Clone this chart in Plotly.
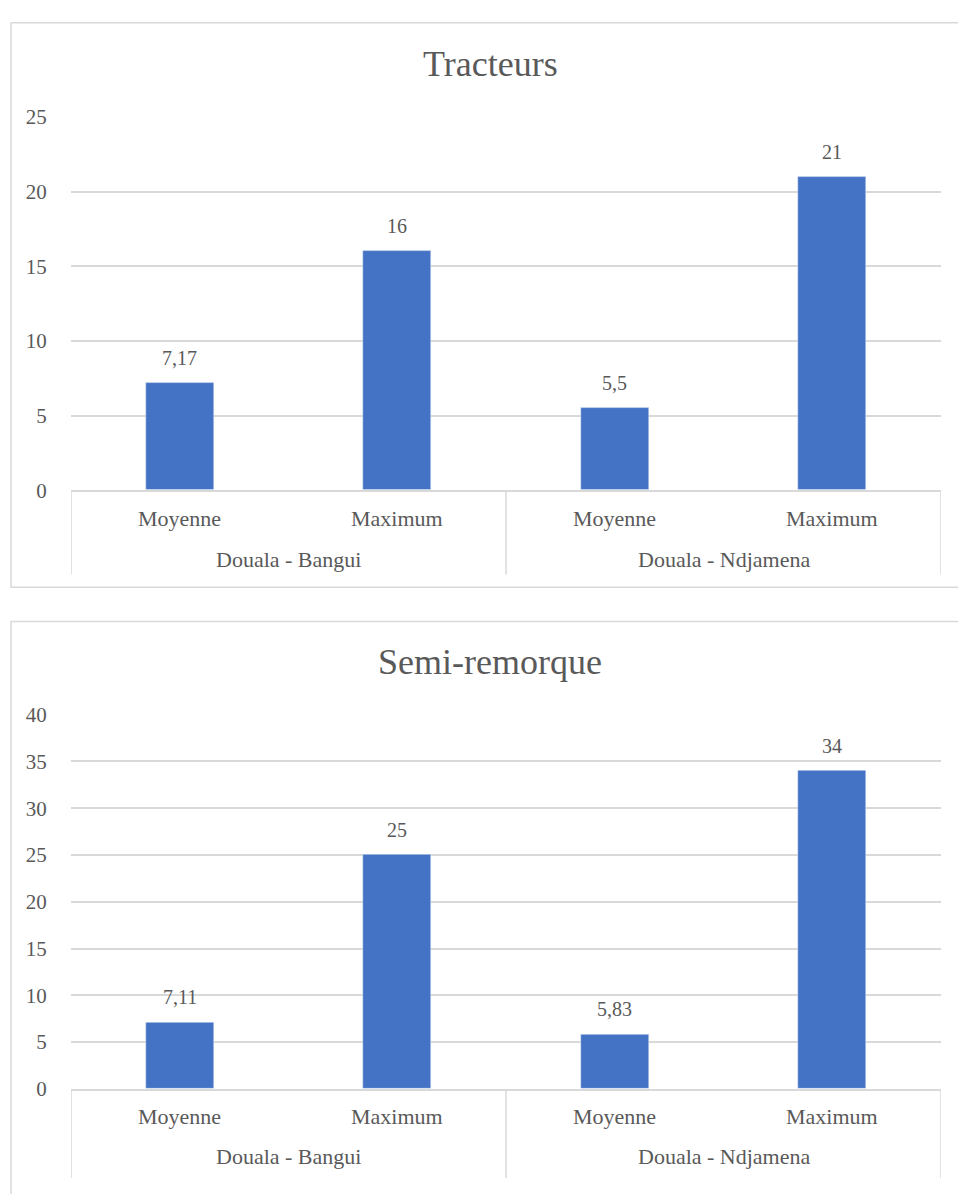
import plotly.graph_objects as go

# ---- data ----
groups = ["Douala - Bangui", "Douala - Ndjamena"]
cats = ["Moyenne", "Maximum"]
tracteurs = [7.17, 16, 5.5, 21]
semi_remorque = [7.11, 25, 5.83, 34]
titles = ["Tracteurs", "Semi-remorque"]
y_max = [25, 40]

W, H = 958, 1194
FONT = "Liberation Serif, Times New Roman, serif"
GREY = "#595959"
LINE = "#d9d9d9"
BAR = "#4472C4"

labels = [c for g in groups for c in cats]
idx = list(range(len(labels)))


def fmt(v):
    s = ("%g" % v)
    return s.replace(".", ",")


def px(y):
    return 1 - y / H


fig = go.Figure()

# pixel layout of the two panels
panels = [
    dict(top=107, zero=488, box=(11, 11, 587), title_y=53, cat_y=517, grp_y=559, bottom=574),
    dict(top=717, zero=1099, box=(11, 622, 1210), title_y=663, cat_y=1127, grp_y=1168, bottom=1190),
]
x0p, x1p = 71 / W, 941 / W
series = [tracteurs, semi_remorque]

shapes = []
annotations = []
for k, (vals, p) in enumerate(zip(series, panels)):
    xa = "x" if k == 0 else "x2"
    ya = "y" if k == 0 else "y2"
    fig.add_trace(go.Bar(
        x=idx, y=vals, marker_color=BAR, width=0.3125,
        xaxis=xa, yaxis=ya, showlegend=False, hoverinfo="x+y",
    ))
    xkey = "xaxis" if k == 0 else "xaxis2"
    ykey = "yaxis" if k == 0 else "yaxis2"
    fig.update_layout(**{
        xkey: dict(domain=[x0p, x1p], range=[-0.5, len(labels) - 0.5],
                   showticklabels=False, showgrid=False, zeroline=False,
                   showline=True, linecolor=LINE, linewidth=1.5,
                   anchor=ya, fixedrange=True),
        ykey: dict(domain=[px(p["zero"]), px(p["top"])], range=[0, y_max[k]],
                   dtick=5, showgrid=True, gridcolor=LINE, gridwidth=1.5,
                   zeroline=False, showline=False,
                   ticks="outside", ticklen=19, tickcolor="rgba(0,0,0,0)",
                   tickfont=dict(family=FONT, size=21, color=GREY),
                   anchor=xa, fixedrange=True),
    })
    # chart border
    bx, by0, by1 = p["box"]
    shapes.append(dict(type="rect", xref="paper", yref="paper",
                       x0=bx / W, x1=1.01, y0=px(by1), y1=px(by0),
                       line=dict(color=LINE, width=1.5), fillcolor="rgba(0,0,0,0)",
                       layer="below"))
    # category axis dividers
    for d in [-0.5, len(cats) - 0.5, len(labels) - 0.5]:
        shapes.append(dict(type="line", xref=xa, yref="paper",
                           x0=d, x1=d, y0=px(p["bottom"]), y1=px(p["zero"]),
                           line=dict(color=LINE, width=1.5)))
    # title
    annotations.append(dict(text=titles[k], xref="paper", yref="paper",
                            x=490 / W, y=px(p["title_y"]), xanchor="center", yanchor="middle",
                            showarrow=False, font=dict(family=FONT, size=36, color=GREY)))
    # category labels
    for i, lab in enumerate(labels):
        annotations.append(dict(text=lab, xref=xa, yref="paper", x=i, y=px(p["cat_y"]),
                                xanchor="center", yanchor="middle", showarrow=False,
                                font=dict(family=FONT, size=22, color=GREY)))
    for g, gname in enumerate(groups):
        annotations.append(dict(text=gname, xref=xa, yref="paper",
                                x=g * len(cats) + (len(cats) - 1) / 2, y=px(p["grp_y"]),
                                xanchor="center", yanchor="middle", showarrow=False,
                                font=dict(family=FONT, size=22, color=GREY)))
    # data labels
    for i, v in enumerate(vals):
        annotations.append(dict(text=fmt(v), xref=xa, yref=ya, x=i, y=v,
                                xanchor="center", yanchor="middle", yshift=25,
                                showarrow=False,
                                font=dict(family=FONT, size=20, color=GREY)))

fig.update_layout(
    width=W, height=H, margin=dict(l=0, r=0, t=0, b=0),
    paper_bgcolor="white", plot_bgcolor="white",
    shapes=shapes, annotations=annotations, bargap=0,
    font=dict(family=FONT, color=GREY),
)

fig.write_html("out.html")
